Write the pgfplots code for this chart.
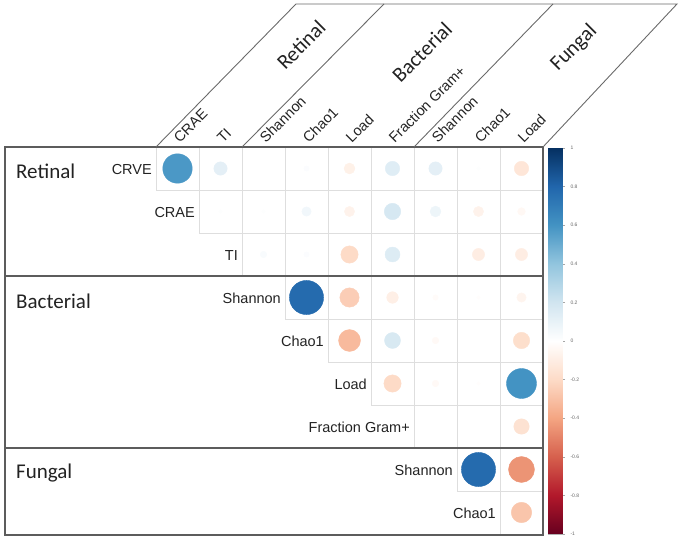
\documentclass[border=0pt]{standalone}
\usepackage{pgfplots}
\pgfplotsset{compat=1.18}
\usepackage{pgfplotstable}
\usepackage{fontspec}
\setmainfont{Liberation Sans}
\newfontfamily\grpfont{Carlito}
\definecolor{gridc}{HTML}{DEDEDE}
\definecolor{framec}{HTML}{5C5C5C}
\definecolor{hdrc}{HTML}{6A6A6A}
\definecolor{txtc}{HTML}{222222}
\pgfplotsset{colormap={rdbu}{rgb255=(103,0,31) rgb255=(178,24,43) rgb255=(214,96,77) rgb255=(244,165,130) rgb255=(253,219,199) rgb255=(255,255,255) rgb255=(209,229,240) rgb255=(146,197,222) rgb255=(67,147,195) rgb255=(33,102,172) rgb255=(5,48,97)}}

% x = column centre, y = row centre (cells), r = correlation
\pgfplotstableread{
x y r
0.5 0.5 0.58
1.5 0.5 0.12
3.5 0.5 0.02
4.5 0.5 -0.08
5.5 0.5 0.14
6.5 0.5 0.12
7.5 0.5 0.01
8.5 0.5 -0.14
1.5 1.5 0.01
2.5 1.5 0.01
3.5 1.5 0.06
4.5 1.5 -0.07
5.5 1.5 0.18
6.5 1.5 0.08
7.5 1.5 -0.07
8.5 1.5 -0.04
2.5 2.5 0.03
3.5 2.5 0.02
4.5 2.5 -0.20
5.5 2.5 0.15
7.5 2.5 -0.10
8.5 2.5 -0.10
3.5 3.5 0.78
4.5 3.5 -0.25
5.5 3.5 -0.09
6.5 3.5 -0.02
7.5 3.5 -0.01
8.5 3.5 -0.06
4.5 4.5 -0.32
5.5 4.5 0.17
6.5 4.5 -0.03
8.5 4.5 -0.18
5.5 5.5 -0.20
6.5 5.5 -0.03
7.5 5.5 -0.01
8.5 5.5 0.60
8.5 6.5 -0.16
7.5 7.5 0.78
8.5 7.5 -0.45
8.5 8.5 -0.28
}\corrdata

\begin{document}
\begin{tikzpicture}
\useasboundingbox (0,0) rectangle (685pt,545pt);
% grid of the upper triangle (pixel coordinates)
\begin{scope}[x=1pt,y=-1pt,shift={(0pt,545pt)}]
\foreach \k in {0,...,9} {
  \pgfmathsetmacro\xs{156+43*max(\k-1,0)}
  \pgfmathsetmacro\yy{147+43*\k}
  \pgfmathsetmacro\xx{156+43*\k}
  \pgfmathsetmacro\ye{147+43*min(\k+1,9)}
  \draw[gridc,line width=0.8pt] (\xs,\yy) -- (543,\yy);
  \draw[gridc,line width=0.8pt] (\xx,147) -- (\xx,\ye);
}
\end{scope}
\begin{axis}[at={(0,0)},anchor=south west,scale only axis,
  width=685pt,height=545pt,
  xmin=-3.627907,xmax=12.302326,ymin=-3.418605,ymax=9.255814,
  y dir=reverse,hide axis,clip=false,
  colormap name=rdbu,point meta min=-1,point meta max=1,
]
\addplot[scatter,only marks,mark=*,
  point meta=explicit,
  scatter/use mapped color={draw=mapped color,fill=mapped color},
  visualization depends on={19.35*sqrt(abs(\thisrow{r})) \as \rad},
  scatter/@pre marker code/.append style={/tikz/mark size=\rad pt},
] table[x=x,y=y,meta=r] {\corrdata};
\end{axis}
% colour bar as its own small axis
\begin{axis}[at={(548pt,11pt)},anchor=south west,scale only axis,
  width=14pt,height=386pt,
  xmin=0,xmax=1,ymin=-1,ymax=1,
  colormap name=rdbu,point meta min=-1,point meta max=1,
  xtick=\empty,
  ytick={-1,-0.8,-0.6,-0.4,-0.2,0,0.2,0.4,0.6,0.8,1},
  ytick pos=right,yticklabel pos=right,
  tick align=outside,
  major tick length=3pt,
  tick style={draw=gray!70,line width=0.4pt},
  axis line style={draw=gray!60,line width=0.4pt},
  /pgf/number format/assume math mode=true,
  yticklabel style={font=\fontsize{5}{6}\selectfont,text=gray!80!black,xshift=2pt},
]
\addplot[surf,shader=interp,point meta=y,mesh/rows=2,mesh/cols=2]
  coordinates {(0,-1) (1,-1) (0,1) (1,1)};
\end{axis}
\begin{scope}[x=1pt,y=-1pt,shift={(0pt,545pt)}]
% frame
\draw[framec,line width=1.5pt] (5,147) rectangle (543,535);
\draw[framec,line width=1.5pt] (5,276) -- (543,276);
\draw[framec,line width=1.5pt] (5,448) -- (543,448);
% header
\draw[hdrc,line width=0.9pt] (156,147) -- (296,4) -- (677,4) -- (543,147);
\draw[hdrc,line width=0.9pt] (242,147) -- (384,4);
\draw[hdrc,line width=0.9pt] (414,147) -- (553,4);
% column labels
\foreach \lab [count=\i from 0] in {CRAE,TI,Shannon,Chao1,Load,Fraction Gram+,Shannon,Chao1,Load} {
  \node[rotate=45,anchor=south west,inner sep=0pt,text=txtc,font=\fontsize{14.5}{16}\selectfont]
    at (156+43*\i+24,144) {\lab};
}
% row labels
\foreach \lab [count=\i from 0] in {CRVE,CRAE,TI,Shannon,Chao1,Load,Fraction Gram+,Shannon,Chao1} {
  \node[anchor=east,inner sep=0pt,text=txtc,font=\fontsize{14.5}{16}\selectfont]
    at (156+43*\i-4,147+43*\i+22.5) {\lab};
}
% group labels
\node[anchor=west,inner sep=0pt,text=txtc,font=\grpfont\fontsize{21}{24}\selectfont] at (16,171) {Retinal};
\node[anchor=west,inner sep=0pt,text=txtc,font=\grpfont\fontsize{21}{24}\selectfont] at (16,301) {Bacterial};
\node[anchor=west,inner sep=0pt,text=txtc,font=\grpfont\fontsize{21}{24}\selectfont] at (16,473) {Fungal};
\node[rotate=45,inner sep=0pt,text=txtc,font=\grpfont\fontsize{21}{24}\selectfont] at (301,45) {Retinal};
\node[rotate=45,inner sep=0pt,text=txtc,font=\grpfont\fontsize{21}{24}\selectfont] at (422,52) {Bacterial};
\node[rotate=45,inner sep=0pt,text=txtc,font=\grpfont\fontsize{21}{24}\selectfont] at (574,48) {Fungal};
\end{scope}
\end{tikzpicture}
\end{document}
